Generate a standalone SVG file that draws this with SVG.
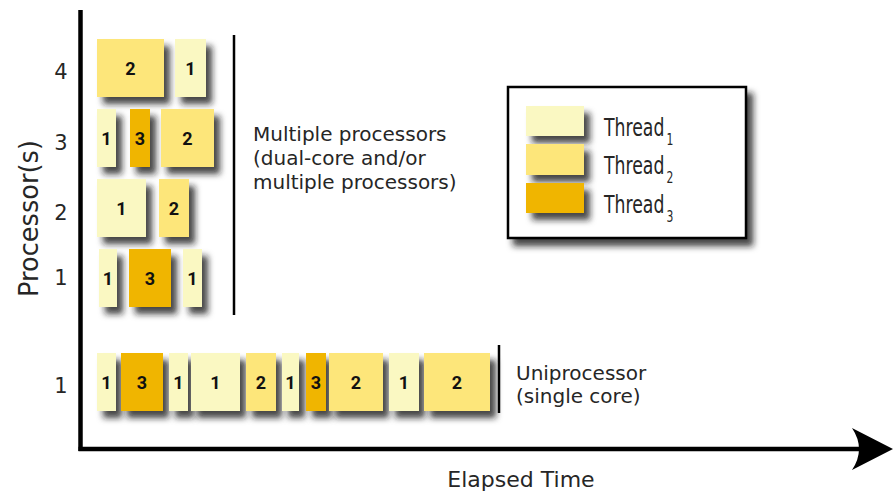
<svg xmlns="http://www.w3.org/2000/svg" width="894" height="491" viewBox="0 0 894 491">
<defs>
<filter id="sh" filterUnits="userSpaceOnUse" x="0" y="0" width="894" height="491">
<feDropShadow dx="6" dy="7" stdDeviation="3" flood-color="#1a1a1a" flood-opacity="0.8"/>
</filter>
<style>
.l{fill:#FAF8C2}
.m{fill:#FDE67A}
.d{fill:#F0B500}
.b{filter:url(#sh)}
.n{font-family:Roboto,"Liberation Sans",sans-serif;font-weight:bold;font-size:18px;fill:#111;text-anchor:middle}
.t{font-family:"DejaVu Sans","Liberation Sans",sans-serif;fill:#262626}
.tick{font-size:21px;text-anchor:middle}
.ax{stroke:#000;fill:none}
.th{font-size:24px}
.sub{font-size:15px}
</style>
</defs>
<rect width="894" height="491" fill="#fff"/>

<g id="axes">
<line class="ax" x1="80.5" y1="10" x2="80.5" y2="451" stroke-width="4.5"/>
<line class="ax" x1="78.5" y1="449" x2="866" y2="449" stroke-width="4.5"/>
<path d="M893,449 L852,428 Q866,449 852,470 Z" fill="#000"/>
<line class="ax" x1="234" y1="35" x2="234" y2="315" stroke-width="2.5"/>
<line class="ax" x1="499" y1="345" x2="499" y2="413" stroke-width="2.5"/>
</g>

<g id="labels" class="t">
<text class="tick" x="61" y="79">4</text>
<text class="tick" x="61" y="150">3</text>
<text class="tick" x="61" y="220">2</text>
<text class="tick" x="61" y="285">1</text>
<text class="tick" x="61" y="393">1</text>
<text transform="translate(38,218.5) rotate(-90)" font-size="27" text-anchor="middle" textLength="157" lengthAdjust="spacingAndGlyphs">Processor(s)</text>
<text x="521" y="487" font-size="22" text-anchor="middle">Elapsed Time</text>
<text font-size="20"><tspan x="253" y="141">Multiple processors</tspan><tspan x="253" y="165">(dual-core and/or</tspan><tspan x="253" y="189">multiple processors)</tspan></text>
<text font-size="20"><tspan x="516" y="380">Uniprocessor</tspan><tspan x="516" y="403">(single core)</tspan></text>
</g>

<g id="p4">
<rect class="m b" x="97" y="39" width="67" height="58"/><text class="n" x="130.5" y="75">2</text>
<rect class="l b" x="175" y="39" width="31" height="58"/><text class="n" x="190.5" y="75">1</text>
</g>
<g id="p3">
<rect class="l b" x="97" y="109" width="19" height="58"/><text class="n" x="106.5" y="145">1</text>
<rect class="d b" x="130" y="109" width="20" height="58"/><text class="n" x="140" y="145">3</text>
<rect class="m b" x="161" y="109" width="53" height="58"/><text class="n" x="187.5" y="145">2</text>
</g>
<g id="p2">
<rect class="l b" x="97" y="179" width="49" height="58"/><text class="n" x="121.5" y="215">1</text>
<rect class="m b" x="159" y="179" width="30" height="58"/><text class="n" x="174" y="215">2</text>
</g>
<g id="p1">
<rect class="l b" x="99" y="249" width="18" height="58"/><text class="n" x="108" y="285">1</text>
<rect class="d b" x="129" y="249" width="42" height="58"/><text class="n" x="150" y="285">3</text>
<rect class="l b" x="183" y="249" width="19" height="58"/><text class="n" x="192.5" y="285">1</text>
</g>
<g id="uni">
<rect class="l b" x="97" y="353" width="19" height="58"/><text class="n" x="106.5" y="389">1</text>
<rect class="d b" x="121" y="353" width="42" height="58"/><text class="n" x="142" y="389">3</text>
<rect class="l b" x="169" y="353" width="19" height="58"/><text class="n" x="178.5" y="389">1</text>
<rect class="l b" x="191" y="353" width="49" height="58"/><text class="n" x="215.5" y="389">1</text>
<rect class="m b" x="246" y="353" width="30" height="58"/><text class="n" x="261" y="389">2</text>
<rect class="l b" x="282" y="353" width="17" height="58"/><text class="n" x="290.5" y="389">1</text>
<rect class="d b" x="306" y="353" width="20" height="58"/><text class="n" x="316" y="389">3</text>
<rect class="m b" x="329" y="353" width="54" height="58"/><text class="n" x="356" y="389">2</text>
<rect class="l b" x="389" y="353" width="30" height="58"/><text class="n" x="404" y="389">1</text>
<rect class="m b" x="424" y="353" width="66" height="58"/><text class="n" x="457" y="389">2</text>
</g>

<g id="legend">
<rect class="b" x="508" y="87" width="238" height="151" fill="#fff" stroke="#000" stroke-width="2.5"/>
<rect class="l b" x="526" y="106" width="58" height="30"/>
<rect class="m b" x="526" y="144" width="58" height="31"/>
<rect class="d b" x="526" y="183" width="58" height="30"/>
<g class="t">
<text class="th" transform="translate(604,136) scale(0.72,1)">Thread<tspan class="sub" dx="3" dy="9">1</tspan></text>
<text class="th" transform="translate(604,174) scale(0.72,1)">Thread<tspan class="sub" dx="3" dy="9">2</tspan></text>
<text class="th" transform="translate(604,213) scale(0.72,1)">Thread<tspan class="sub" dx="3" dy="9">3</tspan></text>
</g>
</g>
</svg>
